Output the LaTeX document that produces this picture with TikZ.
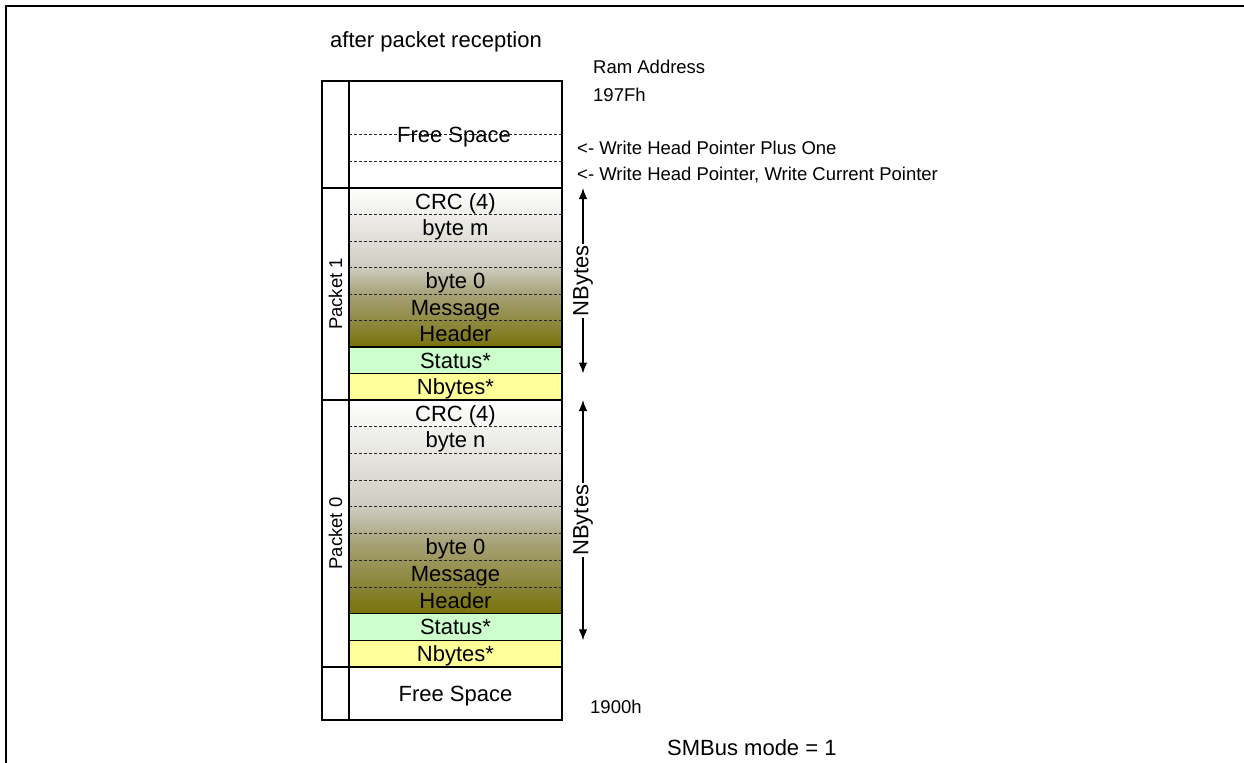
\documentclass[tikz,border=0pt]{standalone}
\usepackage{fontspec}
\setmainfont{Liberation Sans}
\usetikzlibrary{arrows.meta}
\definecolor{statusgreen}{RGB}{204,255,204}
\definecolor{countyellow}{RGB}{255,255,153}
\definecolor{olivedark}{RGB}{120,114,12}
\definecolor{olivekhaki}{RGB}{166,161,118}
\definecolor{olivegray}{RGB}{206,204,193}
\pgfdeclareverticalshading{memfade}{100bp}{color(0bp)=(olivedark); color(25bp)=(olivedark);
    color(41.5bp)=(olivekhaki); color(50bp)=(olivegray); color(75bp)=(white); color(100bp)=(white)}

\begin{document}
\begin{tikzpicture}[x=1bp, y=-1bp,
    big/.style={font=\fontsize{22bp}{26bp}\selectfont},
    small/.style={font=\fontsize{18.5bp}{22bp}\selectfont},
    rowtext/.style={big, inner sep=0pt, text height=15.8bp, text depth=0pt},
    note/.style={small, anchor=base west, inner sep=0pt},
    pktlabel/.style={small, rotate=90, inner sep=0pt},
    thickline/.style={line width=2.2bp},
    thinline/.style={line width=1.2bp},
    sepline/.style={line width=0.8bp, dash pattern=on 3bp off 2bp, black!85},
    span/.style={{Latex[length=11bp,width=8.5bp]}-{Latex[length=11bp,width=8.5bp]}, line width=1.3bp},
]
    \useasboundingbox (0,0) rectangle (1244,763);
    \draw[line width=2bp] (1244,6) -- (6,6) -- (6,763);

    % packet fills
    \shade[shading=memfade] (349,188) rectangle (562,347);
    \fill[statusgreen] (349,347) rectangle (562,373.5);
    \fill[countyellow] (349,373.5) rectangle (562,400);
    \shade[shading=memfade] (349,400) rectangle (562,613.6);
    \fill[statusgreen] (349,613.6) rectangle (562,640.3);
    \fill[countyellow] (349,640.3) rectangle (562,667);

    \foreach \y in {134,161,214.5,241,267.5,294,320.5,426.7,453.4,480.1,506.8,533.5,560.2,586.9} {
        \draw[sepline] (349,\y) -- (562,\y);
    }
    \foreach \y in {347,373.5,613.6,640.3} {
        \draw[thinline] (349,\y) -- (562,\y);
    }
    \draw[thinline] (349,81) -- (349,720);
    \foreach \y in {188,400,667} {
        \draw[thickline] (322,\y) -- (562,\y);
    }
    \draw[thickline] (322,81) rectangle (562,720);

    % row labels
    \node[rowtext] (free-top) at (454,135) {Free Space};
    \foreach \txt/\yc [count=\i] in {CRC (4)/201.25, byte m/227.75, byte 0/280.75, Message/307.25,
                                     Header/333.75, Status*/360.25, Nbytes*/386.75} {
        \node[rowtext] (p1-\i) at (455.5,\yc) {\txt};
    }
    \foreach \txt/\yc [count=\i] in {CRC (4)/413.35, byte n/440.05, byte 0/546.85, Message/573.55,
                                     Header/600.25, Status*/626.95, Nbytes*/653.65} {
        \node[rowtext] (p0-\i) at (455.5,\yc) {\txt};
    }
    \node[rowtext] (free-bot) at (455.5,693.5) {Free Space};

    \node[pktlabel] (pkt1) at (335.5,294) {Packet 1};
    \node[pktlabel] (pkt0) at (335.5,533.5) {Packet 0};

    % length arrows
    \coordinate (p1top) at (583,188);
    \coordinate (p1end) at (583,373.5);
    \coordinate (p0top) at (583,400);
    \coordinate (p0end) at (583,640.3);
    \draw[span] (p1top) -- node[big, fill=white, rotate=90, inner sep=1.5bp] (nb1) {NBytes} (p1end);
    \draw[span] (p0top) -- node[big, fill=white, rotate=90, inner sep=1.5bp] (nb0) {NBytes} (p0end);

    % notes
    \node[big, anchor=base west, inner sep=0pt] (title) at (330,48) {after packet reception};
    \node[note] (ramaddr) at (593,74) {Ram Address};
    \node[note] (addrtop) at (593,102) {197Fh};
    \node[note] (headplus) at (577,154) {<- Write Head Pointer Plus One};
    \node[note] (headcur) at (577,180) {<- Write Head Pointer, Write Current Pointer};
    \node[note] (addrbot) at (590,713) {1900h};
    \node[big, anchor=base west, inner sep=0pt] (mode) at (667,755) {SMBus mode = 1};
\end{tikzpicture}
\end{document}
